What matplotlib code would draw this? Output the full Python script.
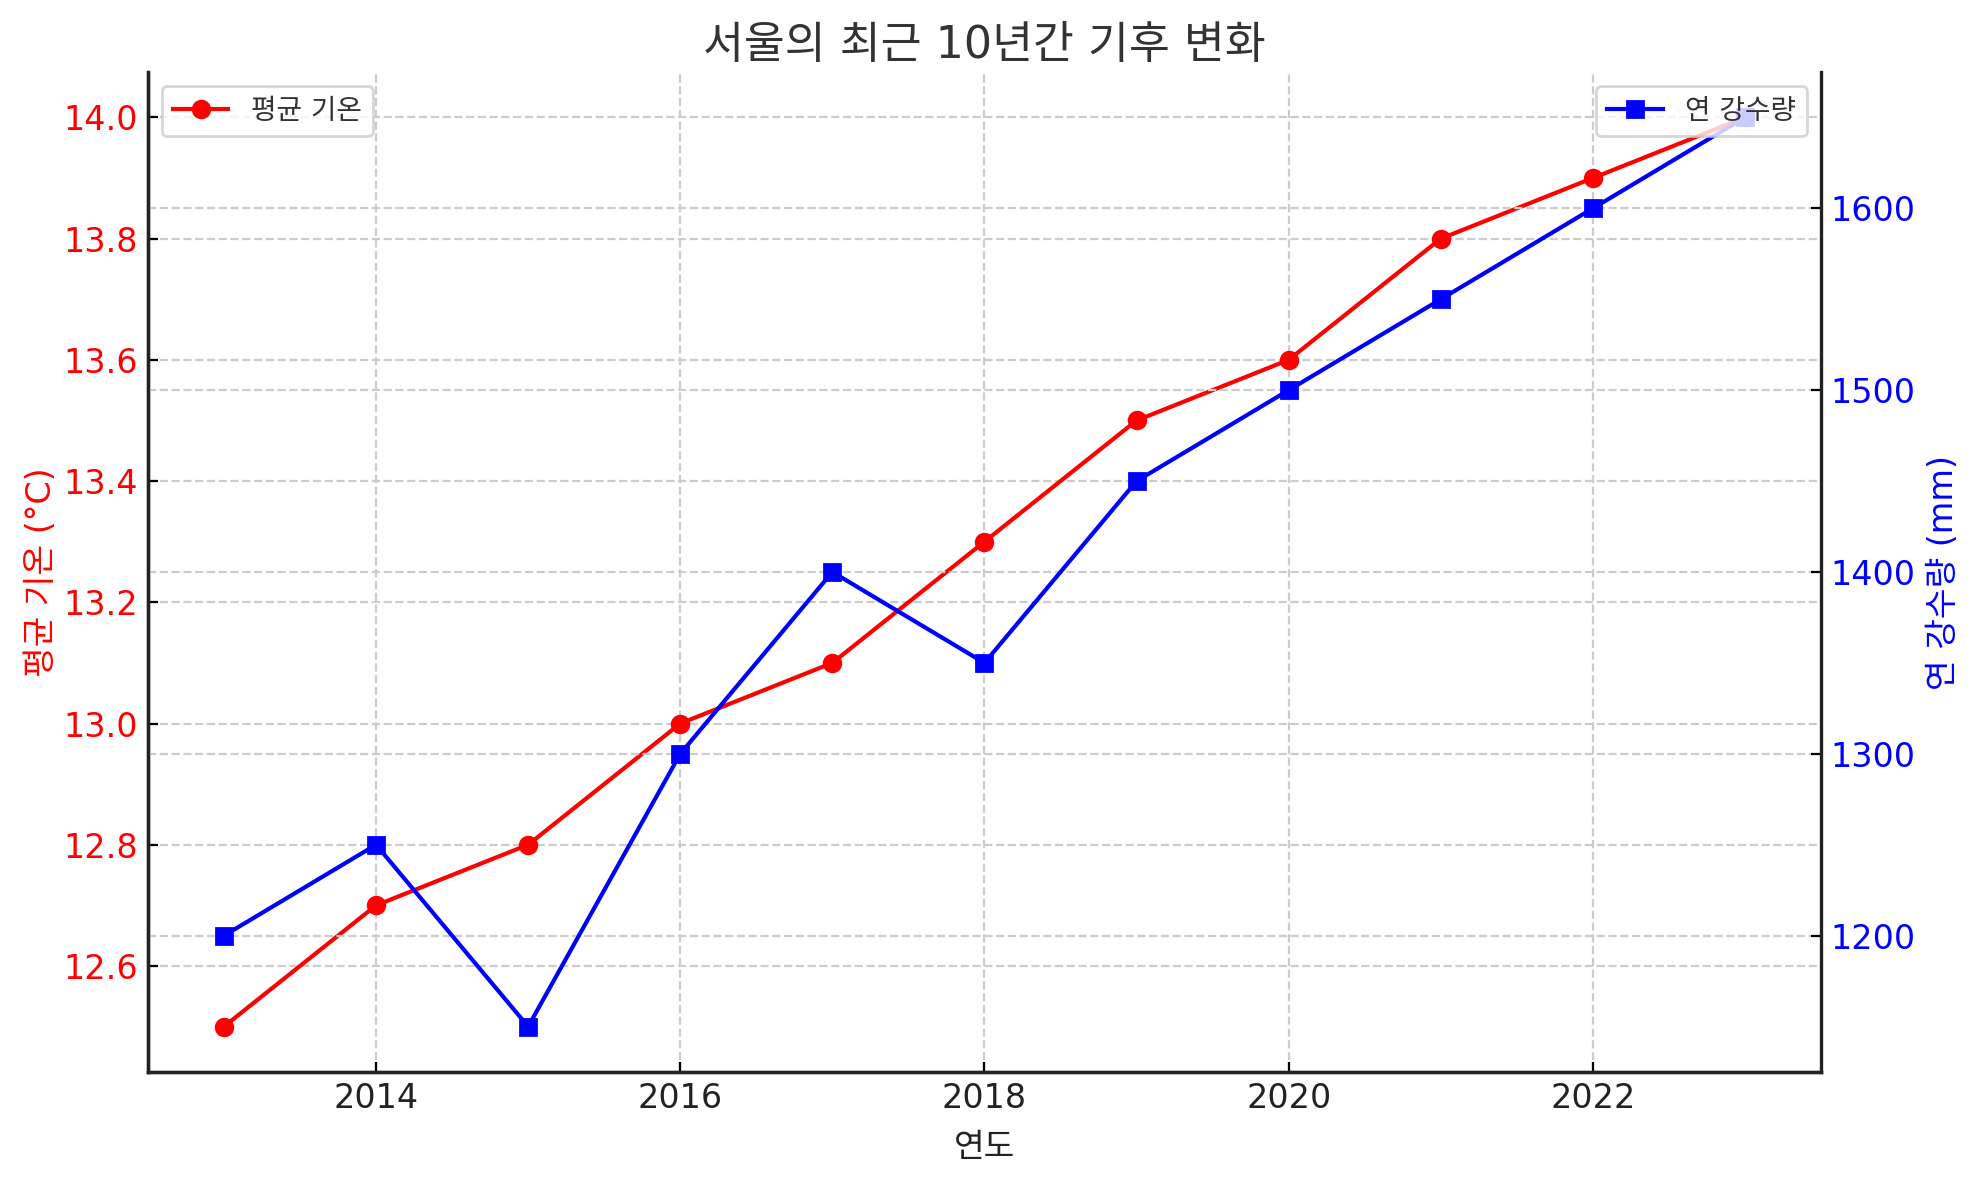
import numpy as np
import matplotlib
matplotlib.use("Agg")
import matplotlib.pyplot as plt

plt.rcParams['font.family'] = ['DejaVu Sans', 'Noto Sans CJK KR']

# data
years = [2013, 2014, 2015, 2016, 2017, 2018, 2019, 2020, 2021, 2022, 2023]
temp = [12.5, 12.7, 12.8, 13.0, 13.1, 13.3, 13.5, 13.6, 13.8, 13.9, 14.0]
rain = [1200, 1250, 1150, 1300, 1400, 1350, 1450, 1500, 1550, 1600, 1650]

title = '서울의 최근 10년간 기후 변화'
xlabel = '연도'
temp_label = '평균 기온'
rain_label = '연 강수량'

fig = plt.figure(figsize=(9.9, 5.9), dpi=200)
ax1 = fig.add_axes([0.0747, 0.0915, 0.845, 0.8475])
ax2 = ax1.twinx()

ax1.plot(years, temp, color='red', marker='o', lw=1.5, ms=6, label=temp_label)
ax2.plot(years, rain, color='blue', marker='s', lw=1.5, ms=6, label=rain_label)

ax1.set_xticks([2014, 2016, 2018, 2020, 2022])
ax1.set_xlabel(xlabel, fontsize=12, color='#222222', labelpad=6)
ax1.set_ylabel(temp_label + ' (°C)', fontsize=12, color='red', labelpad=2)
ax2.set_ylabel(rain_label + ' (mm)', fontsize=12, color='blue')
ax1.set_title(title, fontsize=16, color='#333333', pad=5)

ax1.tick_params(axis='x', direction='in', labelsize=12, labelcolor='#222222')
ax1.tick_params(axis='y', direction='in', labelsize=12, labelcolor='red')
ax2.tick_params(axis='y', direction='in', labelsize=12, labelcolor='blue')

for ax in (ax1, ax2):
    ax.spines['top'].set_visible(False)
    for s in ax.spines.values():
        s.set_color('#222222')
        s.set_linewidth(1.2)
ax1.spines['right'].set_visible(False)

ax1.grid(True, linestyle='--', color='#cccccc', lw=0.8)
ax2.grid(True, axis='y', linestyle='--', color='#cccccc', lw=0.8)

l1 = ax1.legend(loc='upper left', fontsize=10, labelcolor='#333333')
l2 = ax2.legend(loc='upper right', fontsize=10, labelcolor='#333333')

fig.savefig('out.png', dpi=200)
